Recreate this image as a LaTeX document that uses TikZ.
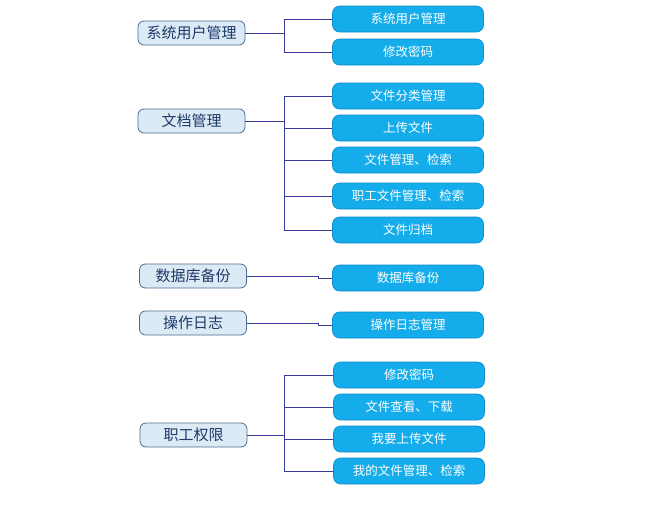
\documentclass[tikz,border=0pt]{standalone}
\usepackage{fontspec}
\setmainfont{Noto Sans CJK SC}
\usepackage{xcolor}
\usetikzlibrary{positioning}

\definecolor{modfill}{HTML}{DCEAF5}
\definecolor{modborder}{HTML}{4F6D8F}
\definecolor{modtext}{HTML}{1E3A6A}
\definecolor{funcfill}{HTML}{14ACEA}
\definecolor{funcborder}{HTML}{0C8CCB}
\definecolor{linkcol}{HTML}{3B3B9C}

\begin{document}
\begin{tikzpicture}[
    x=1pt, y=-1pt,
    % left column: modules
    module/.style={draw=modborder, fill=modfill, line width=0.8pt,
      rounded corners=6pt, minimum width=107pt, minimum height=24pt,
      inner sep=0pt, text=modtext, font=\fontsize{15}{15}\selectfont},
    % right column: functions
    func/.style={draw=funcborder, fill=funcfill, line width=0.6pt,
      rounded corners=7pt, minimum width=151pt, minimum height=26pt,
      inner sep=0pt, text=white, font=\fontsize{12.5}{12.5}\selectfont},
    link/.style={draw=linkcol, line width=0.9pt},
  ]
  \useasboundingbox (0,0) rectangle (656,504);

  % modules
  \node[module] (user)  at (191.5,33)  {系统用户管理};
  \node[module] (doc)   at (191.5,121) {文档管理};
  \node[module] (db)    at (193,276)   {数据库备份};
  \node[module] (log)   at (193,323)   {操作日志};
  \node[module] (staff) at (193.5,435) {职工权限};

  % functions
  \node[func] (usermgr)   at (408,19)  {系统用户管理};
  \node[func] (userpwd)   at (408,52)  {修改密码};
  \node[func] (docsort)   at (408,96)  {文件分类管理};
  \node[func] (docup)     at (408,128) {上传文件};
  \node[func] (docmgr)    at (408,160) {文件管理、检索};
  \node[func] (docstaff)  at (408,196) {职工文件管理、检索};
  \node[func] (docarch)   at (408,230) {文件归档};
  \node[func] (dbbak)     at (408,278) {数据库备份};
  \node[func] (logmgr)    at (408,325) {操作日志管理};
  \node[func] (staffpwd)  at (409,375) {修改密码};
  \node[func] (staffview) at (409,407) {文件查看、下载};
  \node[func] (staffup)   at (409,439) {我要上传文件};
  \node[func] (staffmgr)  at (409,471) {我的文件管理、检索};

  \coordinate (trunk) at (284,0);
  \coordinate (jog) at (318,0);

  % branches
  \foreach \s/\t in {user/usermgr, user/userpwd,
      doc/docsort, doc/docup, doc/docmgr, doc/docstaff, doc/docarch,
      staff/staffpwd, staff/staffview, staff/staffup, staff/staffmgr}
    \draw[link] (\s.east) -- (\s.east -| trunk) |- (\t.west);
  \foreach \s/\t in {db/dbbak, log/logmgr}
    \draw[link] (\s.east) -- (\s.east -| jog) |- (\t.west);
\end{tikzpicture}
\end{document}
